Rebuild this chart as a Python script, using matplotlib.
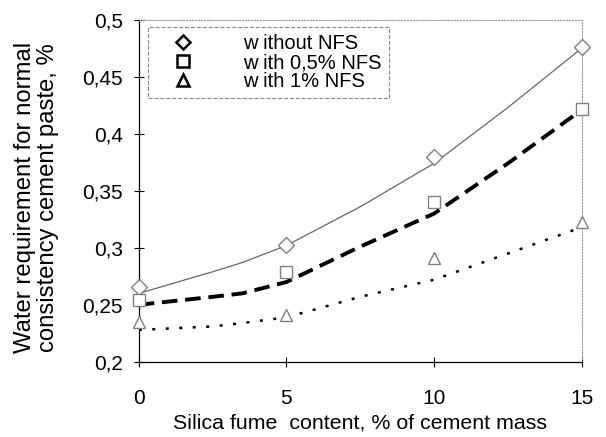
import numpy as np
import matplotlib.pyplot as plt
from matplotlib.lines import Line2D

plt.rcParams['font.family'] = ['Liberation Sans', 'DejaVu Sans']

# measured points
silica = [0, 5, 10, 15]
without_nfs = [0.266, 0.302, 0.380, 0.476]
with_05_nfs = [0.254, 0.279, 0.340, 0.422]
with_1_nfs = [0.235, 0.241, 0.291, 0.323]

# trend lines
trend_x = [0, 2.5, 3.5, 5, 7.5, 10, 12.5, 15]
trend_without = [0.260, 0.279, 0.287, 0.302, 0.336, 0.374, 0.423, 0.475]
trend_05 = [0.250, 0.257, 0.260, 0.270, 0.301, 0.330, 0.374, 0.421]
trend_1 = [0.228, 0.231, 0.234, 0.239, 0.257, 0.272, 0.295, 0.318]

legend_labels = ["w ithout NFS", "w ith 0,5% NFS", "w ith 1% NFS"]
y_ticks = [0.2, 0.25, 0.3, 0.35, 0.4, 0.45, 0.5]
y_tick_labels = ["0,2", "0,25", "0,3", "0,35", "0,4", "0,45", "0,5"]
x_ticks = [0, 5, 10, 15]

fig = plt.figure(figsize=(6.06, 4.37), dpi=100)
ax = fig.add_axes([0.229, 0.172, 0.731, 0.783])

ax.plot(trend_x, trend_without, color="#666666", lw=0.9)
ax.plot(trend_x, trend_05, color="black", lw=2.8, dashes=(4, 2))
ax.plot(trend_x, trend_1, color="black", lw=1.8, dashes=(1.2, 4.2))

mk = dict(ls="none", mfc="white", mec="#808080", mew=1.0, ms=9, clip_on=False, zorder=5)
ax.plot(silica, without_nfs, marker="D", **{**mk, "ms": 8})
ax.plot(silica, with_05_nfs, marker="s", **mk)
ax.plot(silica, with_1_nfs, marker="^", **mk)

ax.set_xlim(0, 15)
ax.set_ylim(0.2, 0.5)
ax.set_xticks(x_ticks)
ax.set_yticks(y_ticks)
ax.set_yticklabels(y_tick_labels)
ax.tick_params(direction="inout", length=7, width=0.8, labelsize=15)
ax.tick_params(axis="x", pad=16)
ax.tick_params(axis="y", pad=8)

for side in ["top", "right"]:
    ax.spines[side].set_linestyle(":")
    ax.spines[side].set_color("#999999")
    ax.spines[side].set_linewidth(0.8)
for side in ["left", "bottom"]:
    ax.spines[side].set_linewidth(0.9)

ax.set_xlabel("Silica fume  content, % of cement mass", fontsize=15.4)
ax.xaxis.set_label_coords(0.50, -0.152)
ax.set_ylabel("Water requirement for normal\nconsistency cement paste, %", fontsize=17.2,
              linespacing=1.05)
ax.yaxis.set_label_coords(-0.18, 0.48)

handles = [
    Line2D([], [], ls="none", marker="D", mfc="white", mec="black", mew=1.8, ms=7),
    Line2D([], [], ls="none", marker="s", mfc="white", mec="black", mew=1.8, ms=8),
    Line2D([], [], ls="none", marker="^", mfc="white", mec="black", mew=1.8, ms=8),
]
leg = ax.legend(handles, legend_labels, loc="upper left", bbox_to_anchor=(0.02, 0.978),
                fontsize=14.5, handletextpad=1.6, handlelength=2.8, labelspacing=0.0,
                borderpad=0.35, borderaxespad=0, fancybox=False, framealpha=1)
leg.get_frame().set_linestyle("--")
leg.get_frame().set_edgecolor("#888888")
leg.get_frame().set_linewidth(0.8)

fig.savefig("out.png", dpi=100)
